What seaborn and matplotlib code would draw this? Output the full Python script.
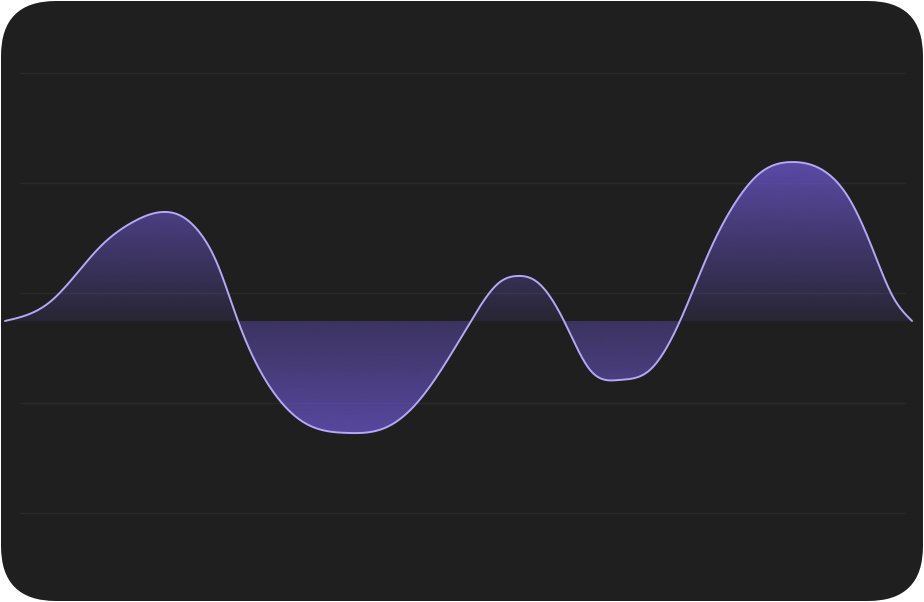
import numpy as np
import pandas as pd
import matplotlib
matplotlib.use("Agg")
import matplotlib.pyplot as plt
from matplotlib.patches import FancyBboxPatch, Polygon
import seaborn as sns

# Values (position 0-100, signal value)
positions = [0, 4.96, 10.47, 14.11, 17.42, 19.63, 21.50, 23.37, 25.69,
             29.99, 32.86, 37.71, 42.12, 45.42, 51.38, 54.58, 56.45, 58.66,
             61.63, 64.50, 67.81, 71.11, 74.42, 77.73, 80.71, 83.24, 86.88,
             90.63, 93.16, 95.70, 97.91, 100]
values = [0, 1.73, 6.73, 9.0, 9.91, 9.45, 8.0, 5.27, 0,
          -6.91, -9.18, -10.18, -9.64, -7.45, 0, 3.55, 4.09, 3.55,
          0, -4.45, -5.36, -4.45, 0, 6.45, 11.0, 13.45, 14.45,
          13.45, 11.0, 6.45, 2.18, 0]
grid_levels = [22.5, 12.5, 2.5, -7.5, -17.5]

BG = "#1f1f1f"
GRID = "#2a2a2a"
LINE = "#b5a8f5"
FILL_RGB = np.array([110, 88, 210]) / 255.0


def natural_spline(x, y, xs):
    # plain natural cubic spline for a smooth curve through the points
    x = np.asarray(x, float)
    y = np.asarray(y, float)
    n = len(x)
    h = np.diff(x)
    A = np.zeros((n, n))
    r = np.zeros(n)
    A[0, 0] = 1
    A[-1, -1] = 1
    for i in range(1, n - 1):
        A[i, i - 1] = h[i - 1]
        A[i, i] = 2 * (h[i - 1] + h[i])
        A[i, i + 1] = h[i]
        r[i] = 6 * ((y[i + 1] - y[i]) / h[i] - (y[i] - y[i - 1]) / h[i - 1])
    M = np.linalg.solve(A, r)
    idx = np.clip(np.searchsorted(x, xs) - 1, 0, n - 2)
    hh = h[idx]
    a = (x[idx + 1] - xs) / hh
    b = (xs - x[idx]) / hh
    return (a * y[idx] + b * y[idx + 1]
            + ((a**3 - a) * M[idx] + (b**3 - b) * M[idx + 1]) * hh**2 / 6)


xs = np.linspace(positions[0], positions[-1], 1500)
ys = natural_spline(positions, values, xs)
curve = pd.DataFrame({"position": xs, "value": ys})

sns.set_theme(style="dark")
fig = plt.figure(figsize=(9.24, 6.02), dpi=100, facecolor="white")

# rounded dark card behind everything
bg_ax = fig.add_axes([0, 0, 1, 1])
bg_ax.set_xlim(0, 924)
bg_ax.set_ylim(602, 0)
bg_ax.axis("off")
bg_ax.add_patch(FancyBboxPatch((1, 1), 922, 600, boxstyle="round,pad=0,rounding_size=55",
                               facecolor=BG, edgecolor="none"))

ax = fig.add_axes([0, 0, 1, 1])
ax.patch.set_alpha(0)
xlo, xhi = -0.55, 101.32
ylo, yhi = -25.55, 29.18

for g in grid_levels:
    ax.axhline(g, xmin=20 / 924, xmax=905 / 924, color=GRID, lw=1.0, zorder=1)


# gradient fills, clipped to the area between curve and zero
def gradient_fill(lo, hi, a_lo, a_hi, clip_y):
    n = 256
    img = np.zeros((n, 1, 4))
    img[:, 0, :3] = FILL_RGB
    img[:, 0, 3] = np.linspace(a_lo, a_hi, n)
    im = ax.imshow(img, extent=(xs[0], xs[-1], lo, hi), origin="lower",
                   aspect="auto", interpolation="bicubic", zorder=2)
    verts = np.column_stack([np.r_[xs, xs[::-1]], np.r_[clip_y, np.zeros_like(xs)]])
    poly = Polygon(verts, closed=True, facecolor="none", edgecolor="none")
    ax.add_patch(poly)
    im.set_clip_path(poly)


gradient_fill(0, ys.max(), 0.12, 0.76, np.maximum(ys, 0))
gradient_fill(ys.min(), 0, 0.72, 0.36, np.minimum(ys, 0))

sns.lineplot(data=curve, x="position", y="value", ax=ax, color=LINE,
             linewidth=1.4, zorder=3, sort=False)

ax.set_xlim(xlo, xhi)
ax.set_ylim(ylo, yhi)
ax.axis("off")

fig.savefig("out.png", dpi=100, facecolor="white")
